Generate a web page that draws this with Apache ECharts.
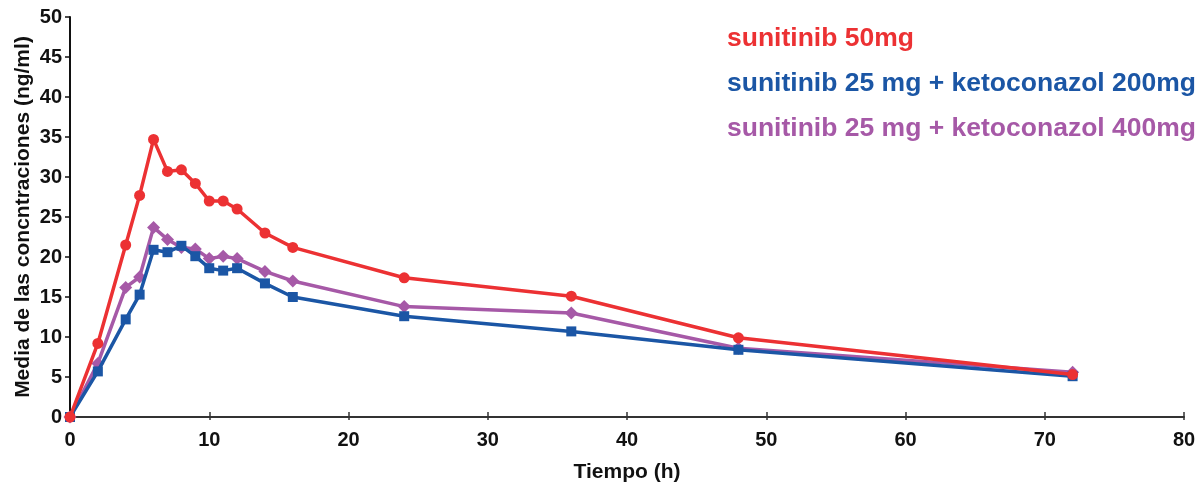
<!DOCTYPE html>
<html>
<head>
<meta charset="utf-8">
<script src="https://cdn.jsdelivr.net/npm/echarts@6/dist/echarts.min.js"></script>
<style>
  html, body { margin: 0; padding: 0; background: #fff; }
  #chart { width: 1204px; height: 486px; }
</style>
</head>
<body>
<div id="chart"></div>
<script>
// Sampling times (h)
const times = [0, 2, 4, 5, 6, 7, 8, 9, 10, 11, 12, 14, 16, 24, 36, 48, 72];

// Mean plasma concentrations (ng/ml)
const suni50 = [0, 9.2, 21.5, 27.7, 34.7, 30.7, 30.9, 29.2, 27.0, 27.0, 26.0, 23.0, 21.2, 17.4, 15.1, 9.9, 5.3];
const suni25keto200 = [0, 5.7, 12.2, 15.3, 20.9, 20.6, 21.4, 20.1, 18.6, 18.3, 18.6, 16.7, 15.0, 12.6, 10.7, 8.4, 5.1];
const suni25keto400 = [0, 6.7, 16.2, 17.5, 23.7, 22.2, 21.2, 21.0, 19.8, 20.1, 19.8, 18.2, 17.0, 13.8, 13.0, 8.6, 5.6];

const seriesNames = [
  'sunitinib 50mg',
  'sunitinib 25 mg + ketoconazol 200mg',
  'sunitinib 25 mg + ketoconazol 400mg'
];
const colors = ['#ec3133', '#1b56a5', '#a659a7'];

const xTicks = [0, 10, 20, 30, 40, 50, 60, 70, 80];
const yTicks = [0, 5, 10, 15, 20, 25, 30, 35, 40, 45, 50];

const FONT = '"Liberation Sans", Arial, Helvetica, sans-serif';

function pairs(vals) {
  return times.map((t, i) => [t, vals[i]]);
}

const chart = echarts.init(document.getElementById('chart'), null, { renderer: 'canvas' });

const labelStyle = { fontFamily: FONT, fontWeight: 'bold', fontSize: 20, color: '#111' };

chart.setOption({
  animation: false,
  backgroundColor: '#fff',
  grid: { left: 70, right: 20, top: 17, bottom: 69, containLabel: false, outerBoundsMode: 'none' },
  legend: {
    orient: 'vertical',
    left: 717,
    top: 19,
    icon: 'none',
    itemWidth: 0,
    itemHeight: 0,
    itemGap: 15,
    selectedMode: false,
    data: seriesNames.map((n, i) => ({
      name: n,
      textStyle: {
        color: colors[i], fontFamily: FONT, fontWeight: 'bold', fontSize: 26.5, lineHeight: 30
      }
    }))
  },
  xAxis: [{
    type: 'value',
    min: xTicks[0],
    max: xTicks[xTicks.length - 1],
    interval: 10,
    name: 'Tiempo (h)',
    nameLocation: 'middle',
    nameGap: 45,
    nameMoveOverlap: false,
    nameTextStyle: { fontFamily: FONT, fontWeight: 'bold', fontSize: 21, color: '#111' },
    axisLine: { show: true, lineStyle: { color: '#333', width: 2 } },
    axisTick: { show: true, length: 3, lineStyle: { color: '#333', width: 1.5 } },
    axisLabel: Object.assign({ margin: 13 }, labelStyle),
    splitLine: { show: false }
  }, {
    // inner half of the crossing x ticks
    type: 'value',
    position: 'bottom',
    min: xTicks[0],
    max: xTicks[xTicks.length - 1],
    interval: 10,
    axisLine: { show: false },
    axisTick: { show: true, inside: true, length: 5, lineStyle: { color: '#333', width: 1.5 } },
    axisLabel: { show: false },
    splitLine: { show: false }
  }],
  yAxis: {
    type: 'value',
    min: yTicks[0],
    max: yTicks[yTicks.length - 1],
    interval: 5,
    name: 'Media de las concntraciones (ng/ml)',
    nameLocation: 'middle',
    nameGap: 36,
    nameMoveOverlap: false,
    nameTextStyle: { fontFamily: FONT, fontWeight: 'bold', fontSize: 21, color: '#111' },
    axisLine: { show: true, lineStyle: { color: '#111', width: 2 } },
    axisTick: { show: true, length: 5, lineStyle: { color: '#111', width: 1.5 } },
    axisLabel: Object.assign({ margin: 8 }, labelStyle),
    splitLine: { show: false }
  },
  series: [
    {
      name: seriesNames[0], type: 'line', data: pairs(suni50), z: 5,
      symbol: 'circle', symbolSize: 11,
      lineStyle: { color: colors[0], width: 3.5 },
      itemStyle: { color: colors[0] }
    },
    {
      name: seriesNames[1], type: 'line', data: pairs(suni25keto200), z: 4,
      symbol: 'rect', symbolSize: 10,
      lineStyle: { color: colors[1], width: 3.5 },
      itemStyle: { color: colors[1] }
    },
    {
      name: seriesNames[2], type: 'line', data: pairs(suni25keto400), z: 3,
      symbol: 'diamond', symbolSize: 13,
      lineStyle: { color: colors[2], width: 3.5 },
      itemStyle: { color: colors[2] }
    }
  ]
});
</script>
</body>
</html>
